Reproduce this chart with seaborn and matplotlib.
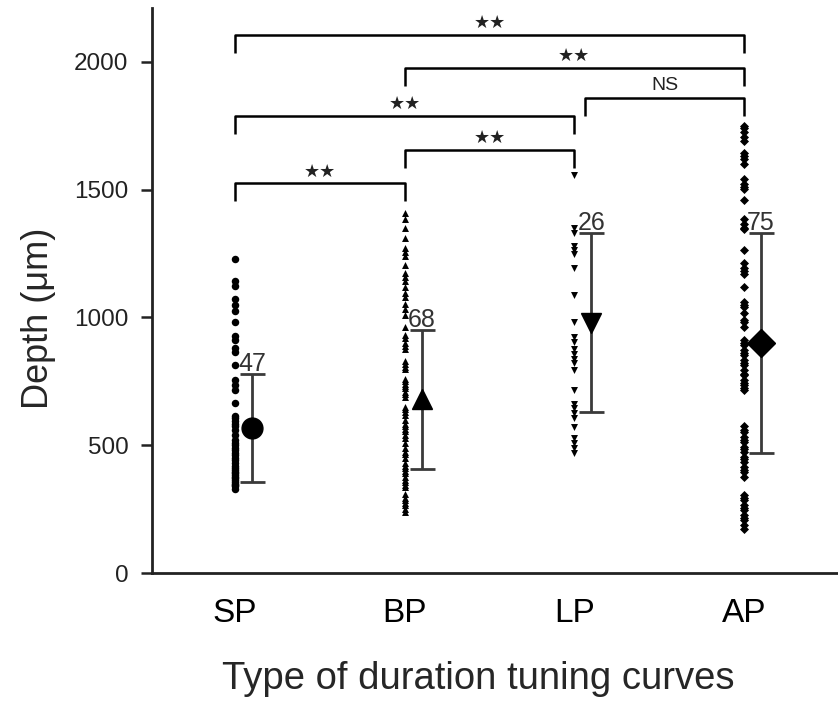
import matplotlib
matplotlib.use('Agg')
import matplotlib.pyplot as plt
import seaborn as sns
import pandas as pd

categories = ['SP', 'BP', 'LP', 'AP']

sp_depth = [1228, 1144, 1125, 1071, 1049, 1027, 984, 929, 912, 879, 866, 814, 755, 736, 716,
            664, 616, 595, 575, 560, 521, 501, 481, 462, 442, 403, 384, 364, 344, 328,
            340, 350, 355, 370, 375, 390, 395, 410, 420, 430, 450, 470, 490, 510, 540, 585, 605]
bp_depth = [1410, 1385, 1350, 1310, 1271, 1258, 1241, 1205, 1175, 1144, 1118, 1095, 1053, 1032,
            964, 918, 899, 876, 817, 797, 753, 732, 723, 700, 641, 618, 582, 562, 527, 475,
            419, 400, 364, 335, 286, 265, 240,
            250, 275, 295, 310, 345, 355, 375, 390, 410, 430, 450, 465, 490, 510, 540, 555,
            575, 600, 630, 650, 690, 710, 740, 760, 805, 830, 890, 930, 1010, 1080, 1160]
lp_depth = [1558, 1349, 1330, 1280, 1264, 1247, 1193, 1088, 984, 922, 905, 875, 857, 838, 821,
            795, 716, 661, 644, 625, 608, 573, 527, 508, 488, 468]
ap_depth = [1750, 1727, 1705, 1643, 1619, 1600, 1541, 1523, 1502, 1460, 1384, 1365, 1345, 1264,
            1215, 1193, 1170, 1121, 1062, 1040, 1019, 984, 962, 912, 892, 873, 853, 834, 814,
            795, 775, 755, 736, 716, 575, 553, 534, 514, 494, 475, 455, 436, 416, 397, 377,
            305, 286, 266, 247, 227, 207, 188, 171,
            1740, 1690, 1630, 1510, 1350, 1180, 1050, 990, 900, 860, 820, 780, 745, 725, 560,
            520, 485, 445, 405, 295, 255, 215]

group_means = [567, 680, 980, 900]
group_sds = [210, 272, 350, 430]
group_n = [47, 68, 26, 75]

# significance comparisons: (group a, group b, bracket level, label)
comparisons = [
    ('SP', 'AP', 2106, '★★'),
    ('BP', 'AP', 1977, '★★'),
    ('LP', 'AP', 1859, 'NS'),
    ('SP', 'LP', 1789, '★★'),
    ('BP', 'LP', 1656, '★★'),
    ('SP', 'BP', 1526, '★★'),
]

point_markers = {'SP': 'o', 'BP': '^', 'LP': 'v', 'AP': 'D'}
point_sizes = {'SP': 5.4, 'BP': 5.0, 'LP': 5.0, 'AP': 4.6}
mean_markers = ['o', '^', 'v', 'D']
mean_sizes = [15, 15, 15, 14]

df = pd.concat([
    pd.DataFrame({'type': 'SP', 'depth': sp_depth}),
    pd.DataFrame({'type': 'BP', 'depth': bp_depth}),
    pd.DataFrame({'type': 'LP', 'depth': lp_depth}),
    pd.DataFrame({'type': 'AP', 'depth': ap_depth}),
], ignore_index=True)

sns.set_style('ticks')
plt.rcParams['font.family'] = ['Liberation Sans', 'DejaVu Sans']

fig = plt.figure(figsize=(8.38, 7.11), dpi=100)
ax = fig.add_axes([152 / 838, 138 / 711, 1 - 152 / 838, (573 - 8) / 711])

for g in categories:
    sns.stripplot(data=df[df['type'] == g], x='type', y='depth', order=categories,
                  jitter=False, marker=point_markers[g], size=point_sizes[g],
                  color='black', linewidth=0, ax=ax)

off = 0.1
for i, g in enumerate(categories):
    ax.errorbar(i + off, group_means[i], yerr=group_sds[i], fmt=mean_markers[i],
                color='black', markersize=mean_sizes[i], ecolor='#3a3a3a',
                elinewidth=2, capsize=9, capthick=2, zorder=5)
    ax.text(i + off, group_means[i] + group_sds[i] - 8, str(group_n[i]),
            ha='center', va='bottom', fontsize=18, color='#333333')

leg = 70
for a, b, level, label in comparisons:
    x1 = categories.index(a)
    x2 = categories.index(b)
    if label == 'NS':
        x1 += 0.065
    ax.plot([x1, x1, x2, x2], [level - leg, level, level, level - leg],
            color='black', lw=1.8, solid_capstyle='butt', clip_on=False)
    if label == 'NS':
        ax.text((x1 + x2) / 2, level + 14, label, ha='center', va='bottom',
                fontsize=14, color='#222222')
    else:
        ax.text((x1 + x2) / 2, level + 10, label, ha='center', va='bottom',
                fontsize=13, family=['DejaVu Sans'], color='#222222')

ax.set_xlim(-0.489, 3.554)
ax.set_ylim(0, 2211)
ax.set_yticks([0, 500, 1000, 1500, 2000])
ax.set_xticks(range(len(categories)))
ax.set_xticklabels(categories)
sns.despine(ax=ax)
for s in ['left', 'bottom']:
    ax.spines[s].set_linewidth(2)
    ax.spines[s].set_color('#222222')
ax.tick_params(axis='y', labelsize=17.5, length=8, width=1.8, pad=9, colors='#222222')
ax.tick_params(axis='x', labelsize=24, length=0, pad=18, colors='black')
ax.set_xlabel('Type of duration tuning curves', fontsize=27.5, labelpad=20)
ax.set_ylabel('Depth (μm)', fontsize=26, labelpad=14)
ax.xaxis.set_label_coords(0.475, -0.155)
ax.yaxis.set_label_coords(-0.14, 0.45)

fig.savefig('out.png', dpi=100)
